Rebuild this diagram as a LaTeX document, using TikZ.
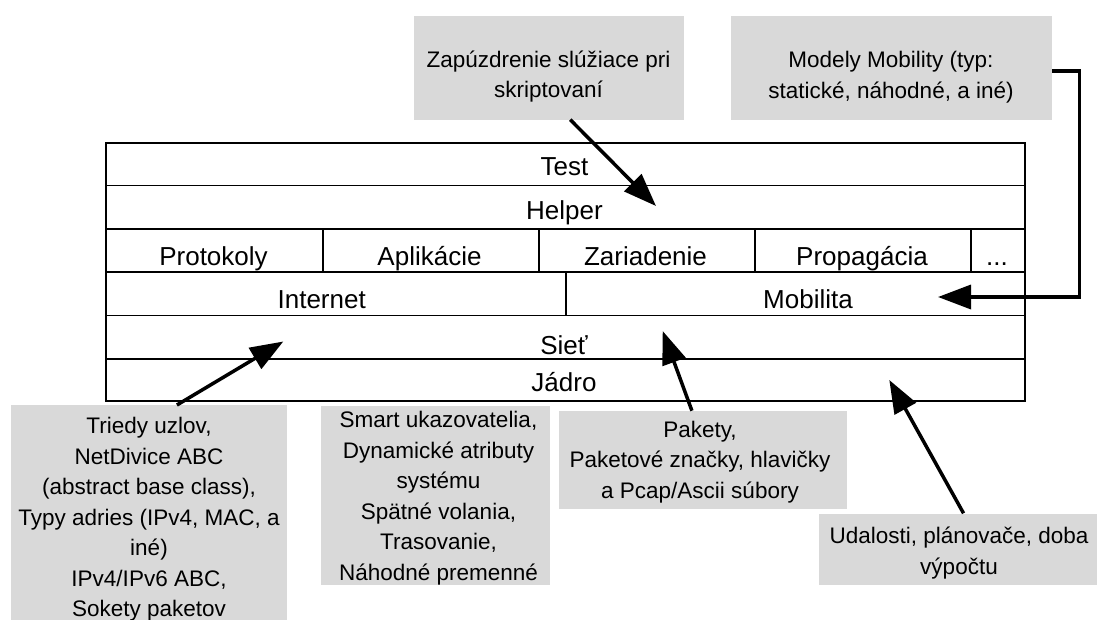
\documentclass[tikz,border=0pt]{standalone}
\usepackage{fontspec}
\setmainfont{Liberation Sans}
\usetikzlibrary{arrows.meta,backgrounds}
\definecolor{boxgray}{RGB}{217,217,217}
\begin{document}
\begin{tikzpicture}[x=1pt,y=-1pt,
  cell/.style={draw=black, line width=1.5pt, inner sep=0pt, anchor=north west},
  laytxt/.style={anchor=base, inner sep=0pt, font=\fontsize{26}{30}\selectfont},
  gbox/.style={fill=boxgray, draw=none, inner sep=0pt, anchor=north west},
  btxt/.style={anchor=base, inner sep=0pt, align=center, font=\fontsize{22.5}{30.5}\selectfont},
  arr/.style={line width=3.5pt, -{Triangle[length=33pt,width=24pt]}}]
\clip (0,0) rectangle (1097,619);
\fill[white] (0,0) rectangle (1097,619);
% layer cells
\node[cell, minimum width=919pt, minimum height=42.5pt] (test) at (105,142) {};
\node[cell, minimum width=919pt, minimum height=43.5pt] (helper) at (105,184.5) {};
\node[cell, minimum width=217pt, minimum height=43pt] (prot) at (105,228) {};
\node[cell, minimum width=216pt, minimum height=43pt] (apl) at (322,228) {};
\node[cell, minimum width=216pt, minimum height=43pt] (zar) at (538,228) {};
\node[cell, minimum width=216pt, minimum height=43pt] (prop) at (754,228) {};
\node[cell, minimum width=54pt, minimum height=43pt] (dots) at (970,228) {};
\node[cell, minimum width=460pt, minimum height=43.5pt] (inet) at (105,271) {};
\node[cell, minimum width=459pt, minimum height=43.5pt] (mob) at (565,271) {};
\node[cell, minimum width=919pt, minimum height=43.5pt] (siet) at (105,314.5) {};
\node[cell, minimum width=919pt, minimum height=42pt] (jadro) at (105,358) {};
% layer texts
\node[laytxt] (tTest) at (564.5,175) {Test};
\node[laytxt] (tHelper) at (564.5,219.3) {Helper};
\node[laytxt] (tProt) at (213.5,265) {Protokoly};
\node[laytxt] (tApl) at (429.5,265) {Aplikácie};
\node[laytxt] (tZar) at (645.5,265) {Zariadenie};
\node[laytxt] (tProp) at (862,265) {Propagácia};
\node[laytxt] (tDots) at (997,265) {...};
\node[laytxt] (tInet) at (321.7,308) {Internet};
\node[laytxt] (tMob) at (808,308) {Mobilita};
\node[laytxt] (tSiet) at (564,354) {Sieť};
\node[laytxt] (tJadro) at (564,391.5) {Jádro};
% grey boxes
\node[gbox, minimum width=270.7pt, minimum height=103.8pt] (zap) at (413.3,15.5) {};
\node[gbox, minimum width=320.7pt, minimum height=104.5pt] (modm) at (731,15.5) {};
\node[gbox, minimum width=276.3pt, minimum height=240pt] (trieda) at (10.7,405) {};
\node[gbox, minimum width=228.3pt, minimum height=178.6pt] (smart) at (321,405.7) {};
\node[gbox, minimum width=288.4pt, minimum height=98.3pt] (pak) at (558.3,410.7) {};
\node[gbox, minimum width=281.7pt, minimum height=71pt] (udal) at (818.3,513.3) {};
% box texts (anchor base = baseline of the last line)
\node[btxt] (tZap) at (548.5,97.5) {Zapúzdrenie slúžiace pri\\skriptovaní};
\node[btxt] (tModm) at (891,98) {Modely Mobility (typ:\\statické, náhodné, a iné)};
\node[btxt] (tTrieda) at (149,616.5) {Triedy uzlov,\\NetDivice ABC\\(abstract base class),\\Typy adries (IPv4, MAC, a\\iné)\\IPv4/IPv6 ABC,\\Sokety paketov};
\node[btxt] (tSmart) at (438.5,580) {Smart ukazovatelia,\\Dynamické atributy\\systému\\Spätné volania,\\Trasovanie,\\Náhodné premenné};
\node[btxt] (tPak) at (700,498.3) {Pakety,\\Paketové značky, hlavičky\\a Pcap/Ascii súbory};
\node[btxt] (tUdal) at (959,574) {Udalosti, plánovače, doba\\výpočtu};
% arrow tips
\coordinate (tipHelper) at (656,206);
\coordinate (tipMob) at (938,297);
\coordinate (tipSietL) at (283.3,341.5);
\coordinate (tipJadroL) at (483.3,379.3);
\coordinate (tipSietR) at (662.7,331);
\coordinate (tipJadroR) at (889.3,380);
% arrows
\begin{pgfonlayer}{background}
\draw[arr] ([xshift=30pt,yshift=-12pt]smart.north) -- (tipJadroL);
\end{pgfonlayer}
\draw[arr] ([xshift=21.4pt]zap.south) -- (tipHelper);
\draw[arr] ([yshift=-3pt]modm.east) -- ++(27.5,0) |- (tipMob);
\draw[arr] ([xshift=27.9pt]trieda.north) -- (tipSietL);
\draw[arr] ([xshift=-10.8pt]pak.north) -- (tipSietR);
\draw[arr] ([xshift=4.2pt]udal.north) -- (tipJadroR);
\end{tikzpicture}
\end{document}
